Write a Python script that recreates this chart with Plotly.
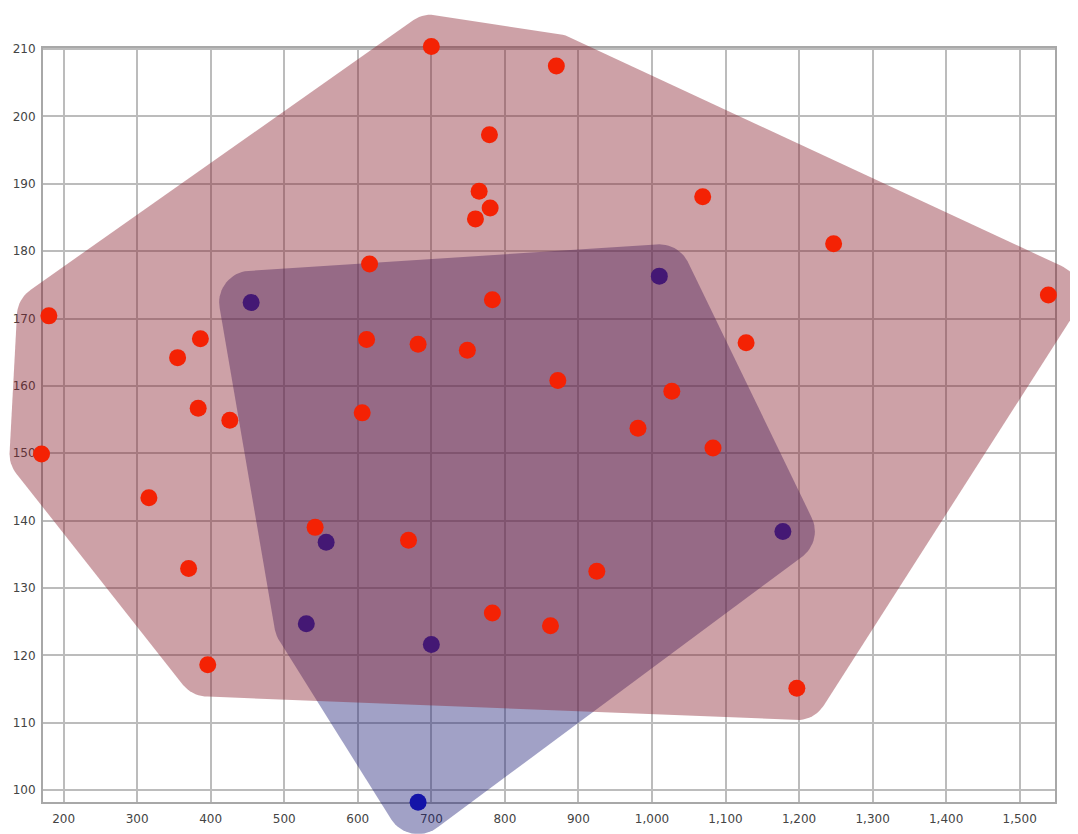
import numpy as np
import plotly.graph_objects as go

# ---------------- data ----------------
red_x = [700, 870, 779, 765, 780, 760, 1069, 1247, 1539, 180, 616, 783, 612, 682, 749,
         386, 355, 1128, 872, 1027, 383, 426, 606, 981, 1083, 170, 316, 542, 669, 370,
         925, 783, 862, 396, 1197]
red_y = [210.4, 207.5, 197.3, 188.9, 186.4, 184.8, 188.1, 181.1, 173.5, 170.4, 178.1, 172.8,
         166.9, 166.2, 165.3, 167.0, 164.2, 166.4, 160.8, 159.2, 156.7, 154.9, 156.0, 153.7,
         150.8, 149.9, 143.4, 139.0, 137.1, 132.9, 132.5, 126.3, 124.4, 118.6, 115.1]
blue_x = [455, 1010, 557, 530, 700, 1178, 682]
blue_y = [172.4, 176.3, 136.8, 124.7, 121.6, 138.4, 98.2]

x_ticks = list(range(200, 1501, 100))
y_ticks = list(range(100, 211, 10))

# ---------------- layout geometry ----------------
OFF = 8                      # page body margin of the browser
W, H = 1078 - OFF, 834 - OFF
PL, PR, PT, PB = 43 - OFF, 1055 - OFF, 43 - OFF, 802 - OFF   # plot frame in figure pixels
X_RANGE = [172, 1548]
Y_RANGE = [98.2, 210.2]
kx = (PR - PL) / (X_RANGE[1] - X_RANGE[0])
ky = (PB - PT) / (Y_RANGE[1] - Y_RANGE[0])
X2_RANGE = [X_RANGE[0] - PL / kx, X_RANGE[1] + (W - PR) / kx]
Y2_RANGE = [Y_RANGE[0] - (H - PB) / ky, Y_RANGE[1] + PT / ky]

PAD_PX = 32  # rounded hull padding in pixels


def convex_hull(pts):
    pts = sorted(set(pts))
    if len(pts) <= 2:
        return pts

    def cross(o, a, b):
        return (a[0] - o[0]) * (b[1] - o[1]) - (a[1] - o[1]) * (b[0] - o[0])
    lower, upper = [], []
    for p in pts:
        while len(lower) >= 2 and cross(lower[-2], lower[-1], p) <= 0:
            lower.pop()
        lower.append(p)
    for p in reversed(pts):
        while len(upper) >= 2 and cross(upper[-2], upper[-1], p) <= 0:
            upper.pop()
        upper.append(p)
    return lower[:-1] + upper[:-1]


def rounded_hull(xs, ys, n=64):
    rx, ry = PAD_PX / kx, PAD_PX / ky
    ang = np.linspace(0, 2 * np.pi, n, endpoint=False)
    pts = []
    for x, y in zip(xs, ys):
        for a in ang:
            pts.append((round(x + rx * np.cos(a), 6), round(y + ry * np.sin(a), 6)))
    h = convex_hull(pts)
    h.append(h[0])
    return [p[0] for p in h], [p[1] for p in h]


bhx, bhy = rounded_hull(blue_x, blue_y)
rhx, rhy = rounded_hull(red_x, red_y)

fig = go.Figure()

# empty trace to establish the framed subplot (grid + ticks)
fig.add_trace(go.Scatter(x=[None], y=[None], xaxis="x", yaxis="y", showlegend=False))

fig.add_trace(go.Scatter(x=bhx, y=bhy, xaxis="x2", yaxis="y2", mode="lines",
                         fill="toself", fillcolor="rgba(30,30,120,0.42)",
                         line=dict(width=0), hoverinfo="skip", showlegend=False))
fig.add_trace(go.Scatter(x=blue_x, y=blue_y, xaxis="x2", yaxis="y2", mode="markers",
                         marker=dict(size=17, color="#1414a8", line=dict(width=0)),
                         showlegend=False))
fig.add_trace(go.Scatter(x=rhx, y=rhy, xaxis="x2", yaxis="y2", mode="lines",
                         fill="toself", fillcolor="rgba(135,30,45,0.42)",
                         line=dict(width=0), hoverinfo="skip", showlegend=False))
fig.add_trace(go.Scatter(x=red_x, y=red_y, xaxis="x2", yaxis="y2", mode="markers",
                         marker=dict(size=17, color="#f42204", line=dict(width=0)),
                         showlegend=False))

tickfont = dict(family="DejaVu Sans", size=12, color="#444444")

fig.update_layout(
    width=W, height=H,
    margin=dict(l=0, r=0, t=0, b=0),
    paper_bgcolor="white", plot_bgcolor="rgba(0,0,0,0)",
    showlegend=False,
    xaxis=dict(domain=[PL / W, PR / W], range=X_RANGE, anchor="y",
               tickmode="array", tickvals=x_ticks, tickformat=",d",
               showgrid=True, gridcolor="#bcbcbc", gridwidth=2,
               showline=True, linecolor="#a8a8a8", linewidth=2, mirror=True,
               zeroline=False, ticks="", tickfont=tickfont, ticklabelstandoff=4),
    yaxis=dict(domain=[(H - PB) / H, (H - PT) / H], range=Y_RANGE, anchor="x",
               tickmode="array", tickvals=y_ticks, tickformat="d",
               showgrid=True, gridcolor="#bcbcbc", gridwidth=2,
               showline=True, linecolor="#a8a8a8", linewidth=2, mirror=True,
               zeroline=False, ticks="", tickfont=tickfont, ticklabelstandoff=3),
    xaxis2=dict(domain=[0, 1], range=X2_RANGE, anchor="y2", visible=False),
    yaxis2=dict(domain=[0, 1], range=Y2_RANGE, anchor="x2", visible=False),
)

fig.write_html("out.html")
